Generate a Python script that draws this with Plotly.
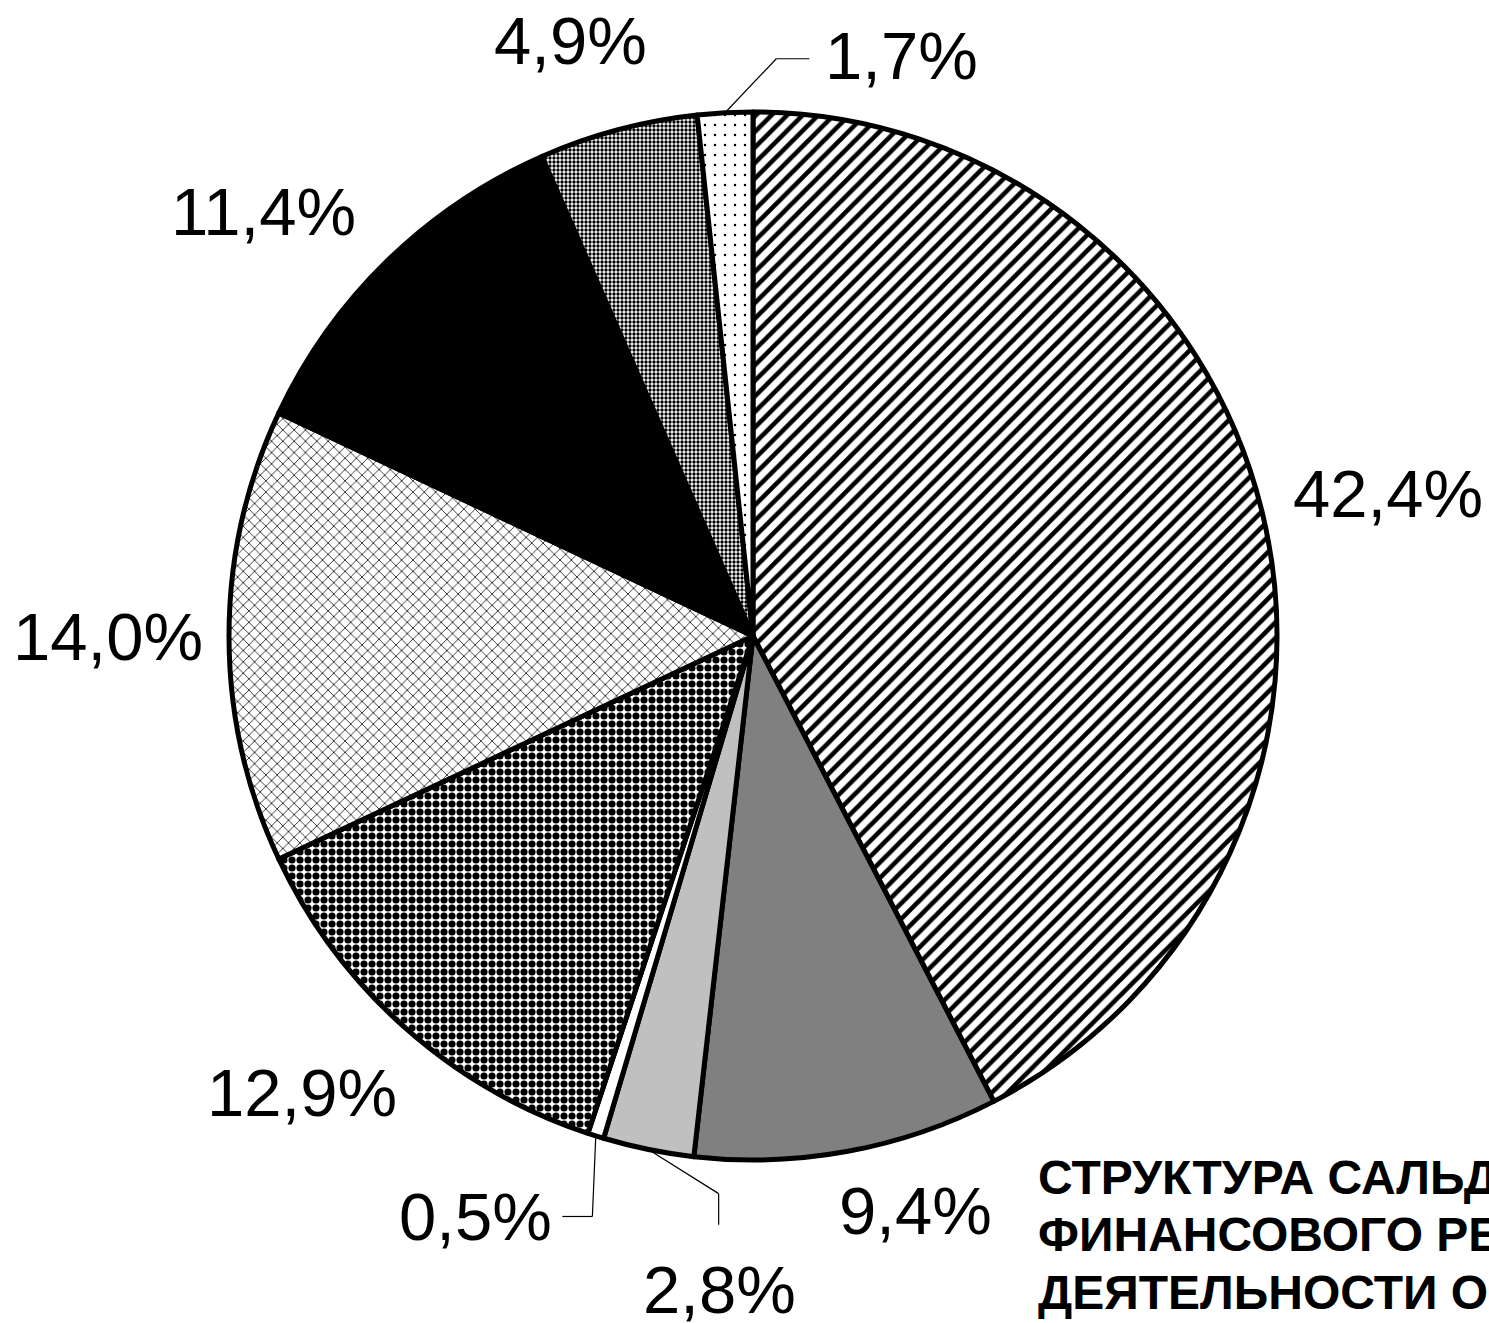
import math
import plotly.graph_objects as go

# ---- data ----
shares = [42.4, 9.4, 2.8, 0.5, 12.9, 14.0, 11.4, 4.9, 1.7]
share_labels = ["42,4%", "9,4%", "2,8%", "0,5%", "12,9%", "14,0%", "11,4%", "4,9%", "1,7%"]
title_lines = ["СТРУКТУРА САЛЬДИРОВАННОГО", "ФИНАНСОВОГО РЕЗУЛЬТАТА", "ДЕЯТЕЛЬНОСТИ ОРГАНИЗАЦИЙ"]

# ---- style ----
W, H = 1489, 1323
CX, CY, R = 753, 636, 524
fill_colors = ["white", "#808080", "#c0c0c0", "white", "white", "white", "black", "white", "white"]
pat_shapes = ["/", "", "", "", ".", "x", "", ".", "."]
pat_sizes = [11, 8, 8, 8, 8, 8, 8, 4, 10]
pat_solid = [0.42, 0.3, 0.3, 0.3, 0.62, 0.18, 0.3, 0.55, 0.05]
# label placement: angle offset from slice middle (deg), radius factor
lab_dang = [1.0, -5.3, -8.6, 8.1, 3.1, 0.0, -4.8, -2.1, 17.4]
lab_rad = [1.242, 1.14, 1.249, 1.228, 1.225, 1.23, 1.236, 1.189, 1.143]
# leader lines: (elbow dx, dy), (end dx, dy) in px relative to label centre
leaders = {2: ((-1, -96), (-1, -65)), 3: ((117, 0), (87, 0)), 8: ((-125, 3), (-92, 3))}
title_x, title_top, title_step, title_size = 1036, 1149, 57, 48

fig = go.Figure()
fig.add_trace(go.Pie(
    labels=share_labels, values=shares, sort=False, direction="clockwise", rotation=0,
    textinfo="none", hoverinfo="label+value", showlegend=False,
    domain=dict(x=[(CX - R) / W, (CX + R) / W], y=[1 - (CY + R) / H, 1 - (CY - R) / H]),
    marker=dict(colors=fill_colors, line=dict(color="black", width=5),
                pattern=dict(shape=pat_shapes, fgcolor="black", bgcolor=fill_colors,
                             size=pat_sizes, solidity=pat_solid, fillmode="replace")),
))

def px2paper(x, y):
    return x / W, 1 - y / H

total = sum(shares)
cum = 0.0
annotations = []
shapes = []
for i, v in enumerate(shares):
    mid = (cum + v / 2) / total * 360.0
    cum += v
    a = math.radians(mid + lab_dang[i])
    lx = CX + math.sin(a) * lab_rad[i] * R
    ly = CY - math.cos(a) * lab_rad[i] * R
    px, py = px2paper(lx, ly)
    annotations.append(dict(x=px, y=py, xref="paper", yref="paper", text=share_labels[i],
                            showarrow=False, xanchor="center", yanchor="middle",
                            font=dict(family="Liberation Sans, Arial", size=67, color="black")))
    if i in leaders:
        am = math.radians(mid)
        sx = CX + math.sin(am) * R
        sy = CY - math.cos(am) * R
        (ex, ey), (fx, fy) = leaders[i]
        pts = [(sx, sy), (lx + ex, ly + ey), (lx + fx, ly + fy)]
        for (x0, y0), (x1, y1) in zip(pts[:-1], pts[1:]):
            a0, b0 = px2paper(x0, y0)
            a1, b1 = px2paper(x1, y1)
            shapes.append(dict(type="line", xref="paper", yref="paper", x0=a0, y0=b0, x1=a1, y1=b1,
                               line=dict(color="black", width=1.2)))

for k, line in enumerate(title_lines):
    tx, ty = px2paper(title_x, title_top + k * title_step)
    annotations.append(dict(x=tx, y=ty, xref="paper", yref="paper", text=line,
                            showarrow=False, xanchor="left", yanchor="top", align="left",
                            font=dict(family="Liberation Sans, Arial", size=title_size,
                                      color="black", weight="bold")))

fig.update_layout(width=W, height=H, margin=dict(l=0, r=0, t=0, b=0),
                  paper_bgcolor="white", plot_bgcolor="white",
                  annotations=annotations, shapes=shapes)
fig.write_html("out.html", config={"displayModeBar": False},
               post_script="document.body.style.margin='0';document.body.style.overflow='hidden';")
